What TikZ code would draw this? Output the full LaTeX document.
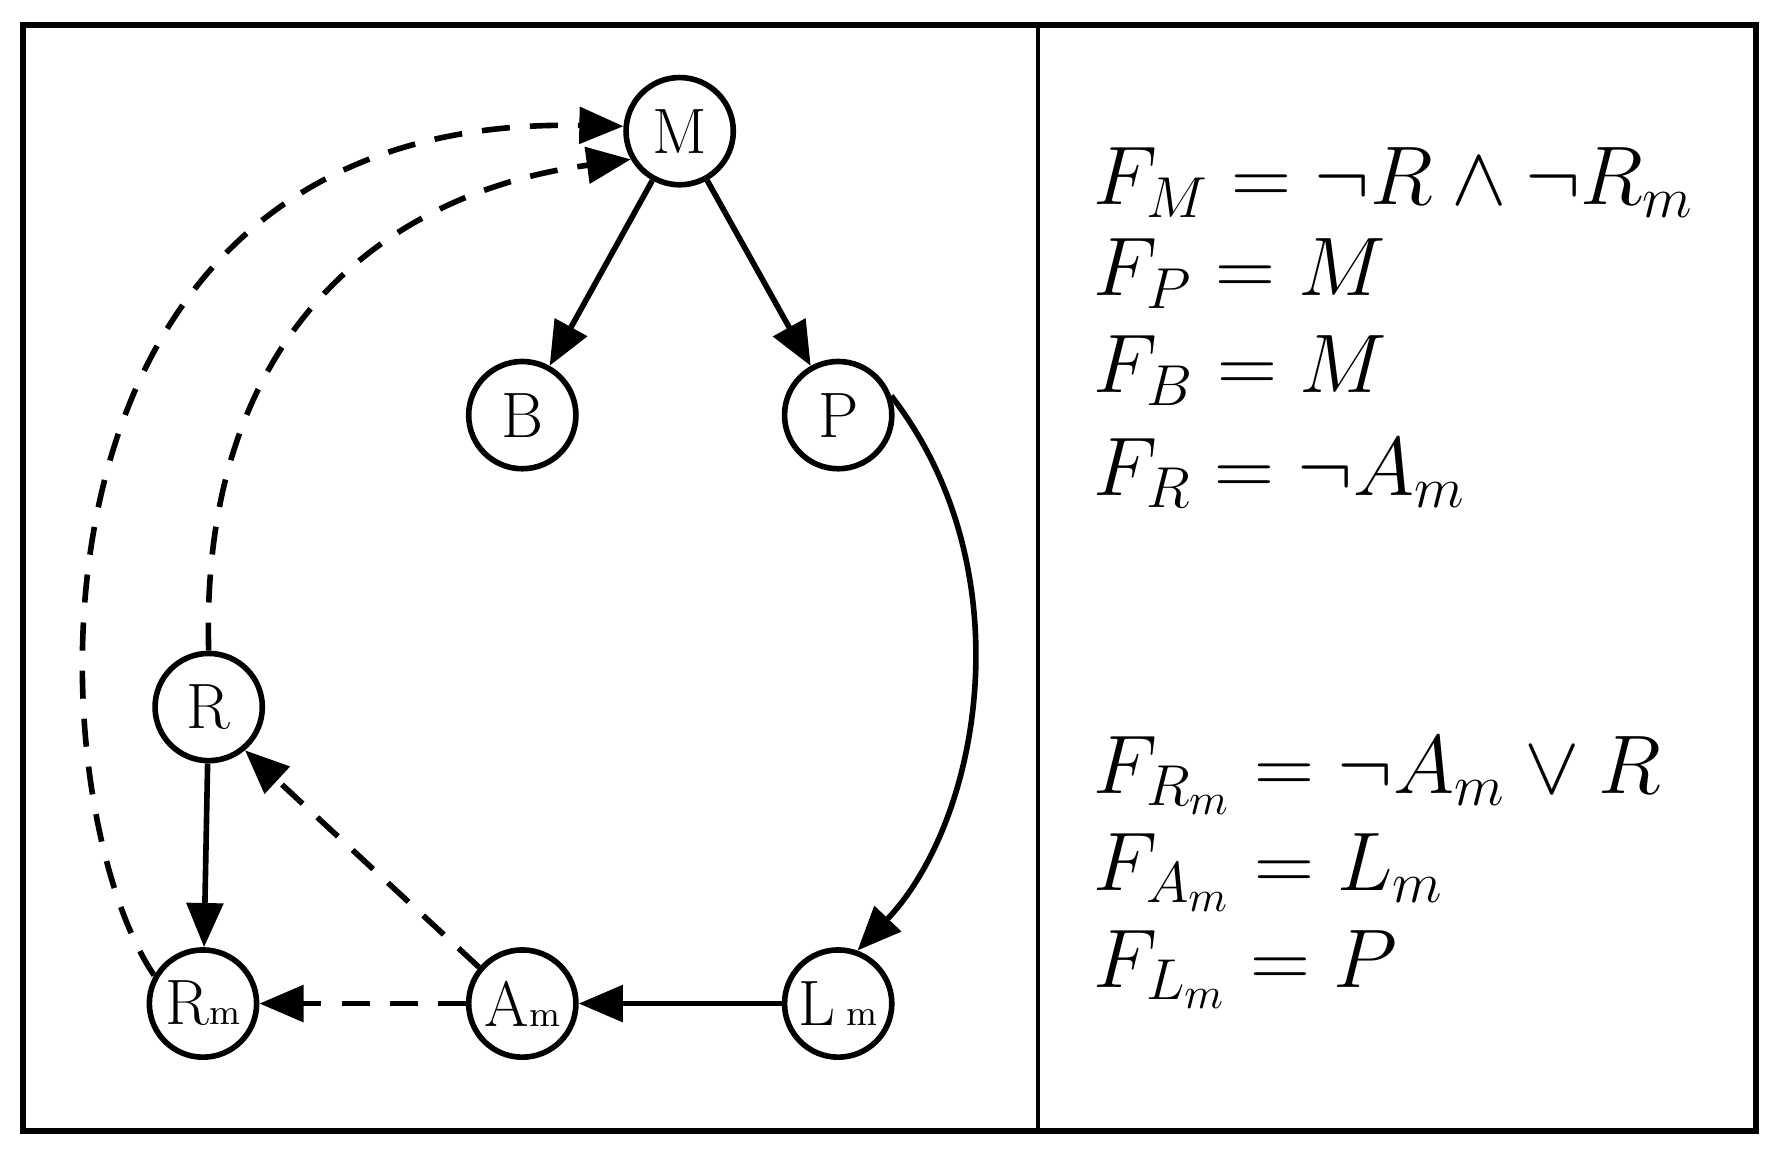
\documentclass[tikz,border=0pt]{standalone}
\usetikzlibrary{arrows.meta}
\begin{document}
\begin{tikzpicture}[x=0.01cm,y=-0.01cm,
  nd/.style={circle,draw,line width=1.4pt,minimum size=0.94cm,inner sep=0pt,font=\fontsize{16}{18}\selectfont},
  ed/.style={line width=1.4pt,-{Triangle[length=11pt,width=9pt]}},
  dsh/.style={ed,dash pattern=on 7pt off 5pt},
  fm/.style={anchor=west,font=\fontsize{21}{24}\selectfont,inner sep=0pt}]
\useasboundingbox (0,0) rectangle (1560,1014);
\draw[line width=1.4pt] (20,22) rectangle (1540,992);
\draw[line width=1pt] (910,22) -- (910,992);
\node[nd] (M) at (596,115) {M};
\node[nd] (B) at (458,364) {B};
\node[nd] (P) at (735,364) {P};
\node[nd] (R) at (183,620) {R};
\node[nd] (Rm) at (178,880) {R{\small m}};
\node[nd] (Am) at (458,880) {A{\small m}};
\node[nd] (Lm) at (735,880) {L\,{\small m}};
\draw[ed] (M) -- (B);
\draw[ed] (M) -- (P);
\draw[ed] (P.20) .. controls (900,500) and (860,720) .. (Lm.70);
\draw[ed] (Lm) -- (Am);
\draw[dsh] (Am) -- (Rm);
\draw[dsh] (Am.140) -- (R.-50);
\draw[ed] (R) -- (Rm);
\draw[dsh] (R.90) .. controls (175,300) and (330,170) .. (M.-150);
\draw[dsh] (Rm.150) .. controls (30,700) and (0,100) .. (M.175);
\node[fm] (f1) at (958,160) {$F_M=\neg R\wedge\neg R_m$};
\node[fm] (f2) at (958,240) {$F_P=M$};
\node[fm] (f3) at (958,325) {$F_B=M$};
\node[fm] (f4) at (958,415) {$F_R=\neg A_m$};
\node[fm] (f5) at (958,680) {$F_{R_m}=\neg A_m\vee R$};
\node[fm] (f6) at (958,765) {$F_{A_m}=L_m$};
\node[fm] (f7) at (958,850) {$F_{L_m}=P$};
\end{tikzpicture}
\end{document}
